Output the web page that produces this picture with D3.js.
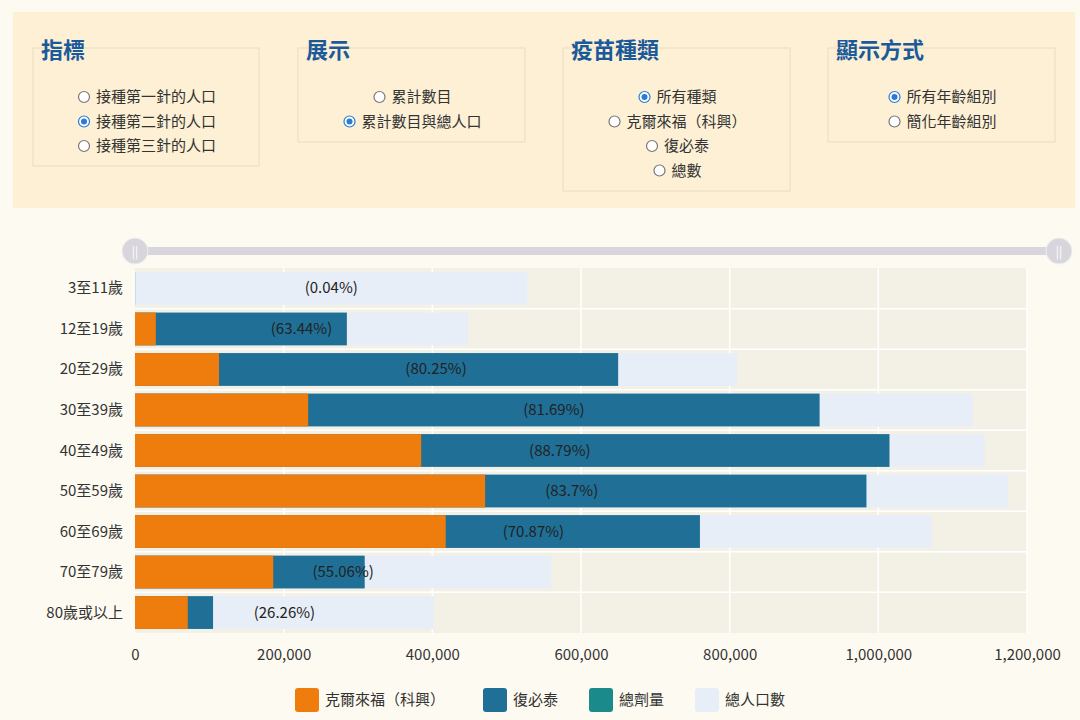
<!DOCTYPE html>
<html><head><meta charset="utf-8">
<script src="https://cdn.jsdelivr.net/npm/d3@7"></script>
<style>
body{margin:0;background:#fdfbf1;font-family:"Noto Sans CJK TC","Noto Sans",sans-serif;}
</style></head><body>
<svg id="c" width="1080" height="720"></svg>
<script>
const ageGroups = ["3至11歲","12至19歲","20至29歲","30至39歲","40至49歲","50至59歲","60至69歲","70至79歲","80歲或以上"];
const sinovac = [0, 28000, 113000, 233000, 385000, 471000, 418000, 186000, 71000];
const biontechCum = [200, 285000, 650000, 921000, 1015000, 984000, 760000, 309000, 105000];
const population = [528000, 448000, 810000, 1127000, 1143000, 1175000, 1072000, 560000, 402000];
const pctLabels = ["(0.04%)","(63.44%)","(80.25%)","(81.69%)","(88.79%)","(83.7%)","(70.87%)","(55.06%)","(26.26%)"];
const xTicks = [0,200000,400000,600000,800000,1000000,1200000];
const legendItems = [["克爾來福（科興）","#ef7d0d"],["復必泰","#1f6f96"],["總劑量","#1a8a8a"],["總人口數","#e8eef8"]];
const panels = [
  {title:"指標", x:33, w:226, h:118, opts:["接種第一針的人口","接種第二針的人口","接種第三針的人口"], sel:1},
  {title:"展示", x:298, w:227, h:94, opts:["累計數目","累計數目與總人口"], sel:1},
  {title:"疫苗種類", x:563, w:227, h:143, opts:["所有種類","克爾來福（科興）","復必泰","總數"], sel:0},
  {title:"顯示方式", x:828, w:227, h:94, opts:["所有年齡組別","簡化年齡組別"], sel:0}
];

const svg = d3.select("#c");
// control panel
svg.append("rect").attr("x",13).attr("y",12).attr("width",1062).attr("height",196).attr("fill","#fdf0d5");
panels.forEach(p => {
  svg.append("rect").attr("x",p.x).attr("y",48).attr("width",p.w).attr("height",p.h)
    .attr("fill","none").attr("stroke","#ebdcc0");
  svg.append("text").attr("x",p.x+8).attr("y",58).attr("font-size",22).attr("font-weight",700)
    .attr("fill","#1b5a9a").text(p.title);
  p.opts.forEach((o,i) => {
    const y = 97 + i*24.5;
    const g = svg.append("g");
    const t = g.append("text").attr("x",p.x+p.w/2+10).attr("y",y+5).attr("font-size",15)
      .attr("text-anchor","middle").attr("fill","#333").text(o);
    const tw = o.length*15;
    const cx = p.x+p.w/2+10 - tw/2 - 12;
    g.append("circle").attr("cx",cx).attr("cy",y).attr("r",5.5).attr("fill","#fff")
      .attr("stroke", i===p.sel ? "#2a7bd6" : "#777").attr("stroke-width",1.2);
    if (i===p.sel) g.append("circle").attr("cx",cx).attr("cy",y).attr("r",3).attr("fill","#2a7bd6");
  });
});

// slider
svg.append("rect").attr("x",135).attr("y",247).attr("width",924).attr("height",8).attr("rx",4).attr("fill","#d8d6dc");
[135,1059].forEach(x => {
  svg.append("circle").attr("cx",x).attr("cy",251).attr("r",13).attr("fill","#d8d6dc").attr("stroke","#eee");
  svg.append("text").attr("x",x).attr("y",256).attr("text-anchor","middle").attr("font-size",12).attr("fill","#fff").text("||");
});

const x = d3.scaleLinear().domain([0,1200000]).range([135,1027]);
const y = d3.scaleBand().domain(ageGroups).range([268,633]).paddingInner(0.19).paddingOuter(0.1);

svg.append("rect").attr("x",135).attr("y",268).attr("width",892).attr("height",365).attr("fill","#f3f1e6");
svg.append("g").selectAll("line").data(xTicks.slice(1)).join("line")
  .attr("x1",d=>x(d)).attr("x2",d=>x(d)).attr("y1",268).attr("y2",633).attr("stroke","#fff").attr("stroke-width",1.5);
svg.append("g").selectAll("line").data(ageGroups.slice(1)).join("line")
  .attr("x1",135).attr("x2",1027).attr("y1",d=>y(d)-y.step()*y.paddingInner()/2).attr("y2",d=>y(d)-y.step()*y.paddingInner()/2)
  .attr("stroke","#fff").attr("stroke-width",1.5);

const rows = ageGroups.map((a,i)=>({a,s:sinovac[i],b:biontechCum[i],p:population[i],l:pctLabels[i]}));
const bars = svg.append("g").selectAll("g").data(rows).join("g");
bars.append("rect").attr("x",x(0)).attr("y",d=>y(d.a)).attr("height",y.bandwidth())
  .attr("width",d=>x(d.p)-x(0)).attr("fill","#e8eef8");
bars.append("rect").attr("x",x(0)).attr("y",d=>y(d.a)).attr("height",y.bandwidth())
  .attr("width",d=>x(d.b)-x(0)).attr("fill","#1f6f96");
bars.append("rect").attr("x",x(0)).attr("y",d=>y(d.a)).attr("height",y.bandwidth())
  .attr("width",d=>x(d.s)-x(0)).attr("fill","#ef7d0d");
bars.append("text").attr("x",d=>x(d.p/2)).attr("y",d=>y(d.a)+y.bandwidth()/2+5)
  .attr("text-anchor","middle").attr("font-size",15).attr("fill","#222").text(d=>d.l);

svg.append("g").selectAll("text").data(ageGroups).join("text")
  .attr("x",123).attr("y",d=>y(d)+y.bandwidth()/2+5).attr("text-anchor","end")
  .attr("font-size",15).attr("fill","#333").text(d=>d);

const xAxis = svg.append("g").attr("transform","translate(0,633)")
  .call(d3.axisBottom(x).tickValues(xTicks).tickFormat(d3.format(",")).tickSize(0).tickPadding(16));
xAxis.select(".domain").remove();
xAxis.selectAll("text").attr("font-size",15).attr("fill","#333").attr("font-family","'Noto Sans CJK TC',sans-serif");

const lg = svg.append("g");
const lx = [295,483,589,695];
legendItems.forEach((d,i)=>{
  lg.append("rect").attr("x",lx[i]).attr("y",688).attr("width",24).attr("height",24).attr("rx",3).attr("fill",d[1]);
  lg.append("text").attr("x",lx[i]+30).attr("y",705).attr("font-size",15).attr("fill","#333").text(d[0]);
});
</script></body></html>
